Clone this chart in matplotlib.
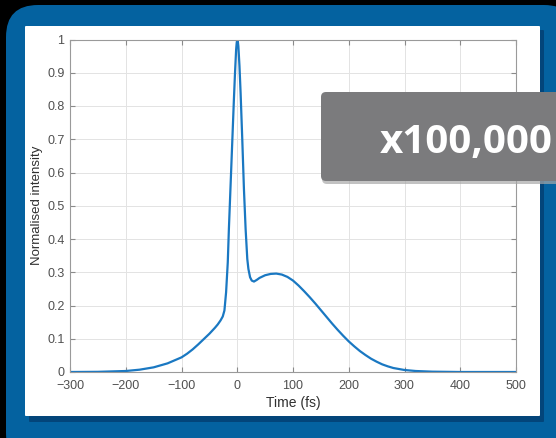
import matplotlib
matplotlib.use("Agg")
import matplotlib.pyplot as plt
from matplotlib.patches import FancyBboxPatch
from matplotlib.transforms import IdentityTransform

# Data
time_fs = [-300, -250, -200, -175, -150, -125, -100, -90, -80, -70, -60, -50, -40, -35,
           -30, -26, -23, -20, -17, -15, -12, -9, -6, -4, -2, -1, 0, 1, 2, 4, 6, 9, 12, 15,
           18, 20, 23, 26, 30, 35, 40, 50, 60, 70, 80, 90, 100, 110, 120, 130, 140, 150,
           160, 170, 180, 190, 200, 210, 220, 230, 240, 250, 260, 270, 280, 300, 320, 350,
           400, 500]
intensity = [0.0, 0.0005, 0.003, 0.007, 0.014, 0.026, 0.044, 0.055, 0.068, 0.083, 0.099,
             0.115, 0.133, 0.143, 0.155, 0.167, 0.185, 0.24, 0.33, 0.43, 0.56, 0.69, 0.82,
             0.90, 0.97, 0.99, 1.0, 0.995, 0.98, 0.92, 0.84, 0.70, 0.55, 0.43, 0.34, 0.31,
             0.285, 0.275, 0.272, 0.277, 0.283, 0.291, 0.295, 0.296, 0.293, 0.286, 0.275,
             0.260, 0.243, 0.225, 0.206, 0.186, 0.166, 0.146, 0.127, 0.109, 0.092, 0.077,
             0.063, 0.051, 0.040, 0.031, 0.023, 0.017, 0.012, 0.006, 0.003, 0.001, 0.0, 0.0]
xticks = [-300, -200, -100, 0, 100, 200, 300, 400, 500]
yticks = [0, 0.1, 0.2, 0.3, 0.4, 0.5, 0.6, 0.7, 0.8, 0.9, 1]
ytick_labels = ['0', '0.1', '0.2', '0.3', '0.4', '0.5', '0.6', '0.7', '0.8', '0.9', '1']
badge_text = 'x100,000'

W, H = 556, 438
fig = plt.figure(figsize=(W / 100, H / 100), dpi=100, facecolor='black')


def box(x, y, w, h, r, color, z, alpha=1.0):
    # pixel coords from top-left
    p = FancyBboxPatch((x + r, H - y - h + r), w - 2 * r, h - 2 * r,
                       boxstyle=f"round,pad={r}", transform=IdentityTransform(),
                       facecolor=color, edgecolor='none', zorder=z, alpha=alpha)
    fig.add_artist(p)


# slide frame
box(6, 5, 570, 460, 32, '#0462a0', -5)
box(29, 30, 515, 392, 1, '#03457a', -4)   # panel shadow
box(25, 26, 515, 390, 1, 'white', -3)

ax = fig.add_axes([70 / W, 1 - 372 / H, 446 / W, 332.5 / H])
ax.plot(time_fs, intensity, color='#1a78c2', lw=1.6)
ax.set_xlim(-300, 500)
ax.set_ylim(0, 1)
ax.set_xticks(xticks)
ax.set_yticks(yticks)
ax.set_yticklabels(ytick_labels)
ax.grid(True, color='#e3e3e3', lw=0.7)
ax.set_axisbelow(True)
ax.tick_params(direction='in', length=3.5, top=True, right=True, color='#8a8a8a',
               labelcolor='#505050', labelsize=9)
ax.tick_params(axis='x', pad=6)
ax.tick_params(axis='y', pad=4)
for s in ax.spines.values():
    s.set_color('#9a9a9a')
    s.set_linewidth(0.8)
for t in ax.get_xticklabels() + ax.get_yticklabels():
    t.set_family('Liberation Sans')
ax.set_xlabel('Time (fs)', family='Liberation Sans', fontsize=10, color='#303030', labelpad=3)
ax.set_ylabel('Normalised intensity', family='Liberation Sans', fontsize=9.5, color='#303030')
ax.yaxis.set_label_coords((43 - 70) / 446, 0.5)

# overlay badge
box(322, 95, 260, 89, 5, '#a8a8a8', 4, alpha=0.7)   # soft shadow
box(321, 92, 260, 89, 5, '#7b7b7d', 5)
fig.text(380 / W, 1 - 153 / H, badge_text, family='Open Sans', weight='bold', fontsize=29,
         color='white', va='baseline', ha='left', zorder=6)

fig.savefig('out.png', dpi=100, facecolor='black')
